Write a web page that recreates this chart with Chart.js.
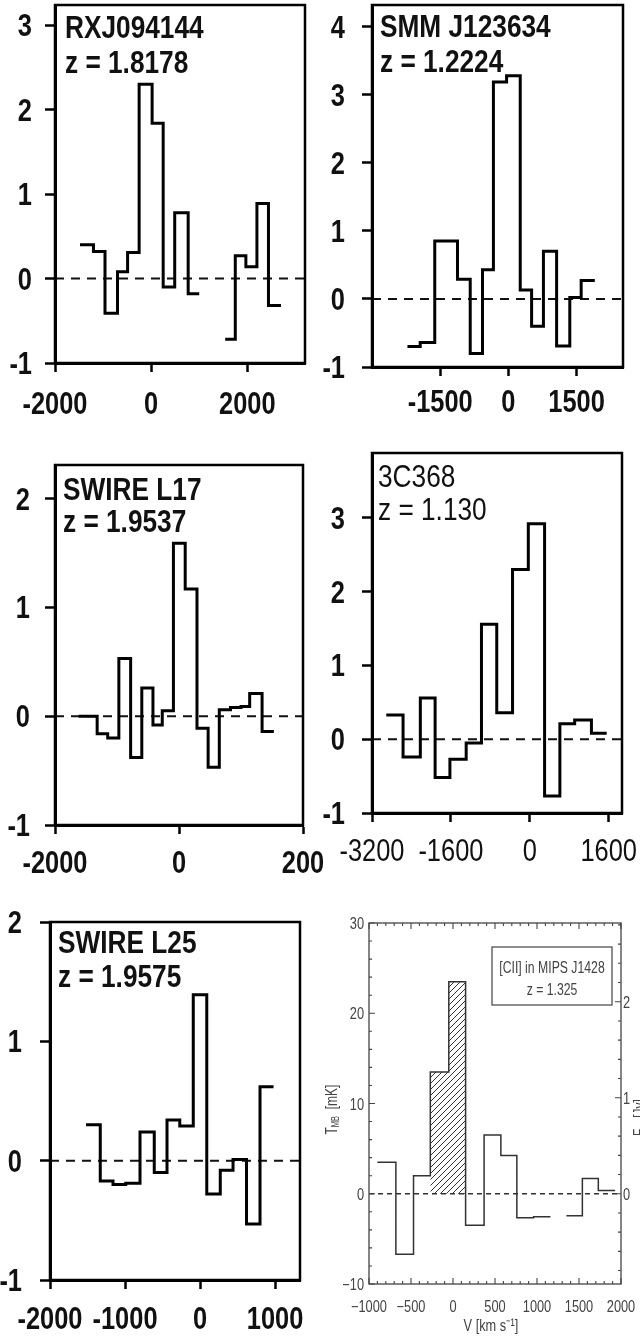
<!DOCTYPE html>
<html>
<head>
<meta charset="utf-8">
<script src="https://cdn.jsdelivr.net/npm/chart.js@4.4.1/dist/chart.umd.min.js"></script>
<style>
  html, body { margin: 0; padding: 0; background: #fff; }
  body { width: 640px; height: 1338px; position: relative; overflow: hidden; }
  canvas { position: absolute; }
</style>
</head>
<body>
<canvas id="rxjChart"></canvas>
<canvas id="smmChart"></canvas>
<canvas id="l17Chart"></canvas>
<canvas id="c368Chart"></canvas>
<canvas id="l25Chart"></canvas>
<canvas id="ciiChart"></canvas>
<script>
const SANS = "'Liberation Sans', Arial, sans-serif";
const SQUEEZE = 0.82;

// RXJ094144 - channel edges (km/s) and flux (mJy)
const rxjEdges = [-1480, -1200, -960, -700, -490, -250, 20, 250, 490, 770, 1000, 1540, 1750, 1970, 2200, 2440, 2700];
const rxjFlux = [0.40, 0.32, -0.41, 0.08, 0.31, 2.30, 1.84, -0.10, 0.78, -0.18, null, -0.72, 0.27, 0.14, 0.89, -0.32];
const rxjXTicks = [-2000, 0, 2000];
const rxjXLabels = ['-2000', '0', '2000'];
const rxjYTicks = [-1, 0, 1, 2, 3];

// SMM J123634
const smmEdges = [-2220, -1940, -1620, -1370, -1120, -840, -570, -330, -40, 260, 510, 770, 1060, 1350, 1600, 1900];
const smmFlux = [-0.70, -0.64, 0.85, 0.85, 0.29, -0.80, 0.43, 3.19, 3.28, 0.13, -0.40, 0.70, -0.69, 0.02, 0.27];
const smmXTicks = [-1500, 0, 1500];
const smmXLabels = ['-1500', '0', '1500'];
const smmYTicks = [-1, 0, 1, 2, 3, 4];

// SWIRE L17
const l17Edges = [-1620, -1320, -1150, -970, -780, -600, -420, -270, -90, 100, 290, 470, 650, 830, 1000, 1140, 1340, 1530];
const l17Flux = [0.0, -0.16, -0.20, 0.53, -0.38, 0.26, -0.08, 0.05, 1.59, 1.17, -0.11, -0.47, 0.06, 0.08, 0.09, 0.21, -0.14];
const l17XTicks = [-2000, 0, 2000];
const l17XLabels = ['-2000', '0', '200'];
const l17YTicks = [-1, 0, 1, 2];

// 3C368
const c368Edges = [-2910, -2570, -2220, -1920, -1620, -1290, -980, -670, -350, -30, 300, 610, 910, 1250, 1560];
const c368Flux = [0.33, -0.24, 0.56, -0.52, -0.27, -0.05, 1.56, 0.36, 2.30, 2.92, -0.77, 0.21, 0.26, 0.08];
const c368XTicks = [-3200, -1600, 0, 1600];
const c368XLabels = ['-3200', '-1600', '0', '1600'];
const c368YTicks = [-1, 0, 1, 2, 3];

// SWIRE L25
const l25Edges = [-1520, -1330, -1160, -990, -800, -610, -440, -270, -90, 90, 270, 440, 620, 800, 980];
const l25Flux = [0.30, -0.17, -0.20, -0.19, 0.24, -0.10, 0.34, 0.29, 1.39, -0.28, -0.08, 0.01, -0.53, 0.62];
const l25XTicks = [-2000, -1000, 0, 1000];
const l25XLabels = ['-2000', '-1000', '0', '1000'];
const l25YTicks = [-1, 0, 1, 2];

// [CII] in MIPS J1428 - main beam temperature (mK), line channels hatched
const ciiEdges = [-900, -680, -470, -270, -50, 150, 370, 570, 760, 960, 1160, 1350, 1540, 1730, 1930];
const ciiTmb = [3.5, -6.7, 2.0, 13.5, 23.5, -3.5, 6.5, 4.25, -2.65, -2.55, null, -2.45, 1.7, 0.37];
const ciiLineBins = [3, 4];
const ciiXTicks = [-1000, -500, 0, 500, 1000, 1500, 2000];
const ciiXLabels = ['\u22121000', '\u2212500', '0', '500', '1000', '1500', '2000'];
const ciiYTicks = [-10, 0, 10, 20, 30];
const ciiYLabels = ['\u221210', '0', '10', '20', '30'];
const ciiJyTicks = [0, 1, 2];
const ciiJyLabels = ['0', '1', '2'];

// turn channel edges + values into points for a stepped line
function stepPoints(edges, values) {
    const pts = [];
    values.forEach((v, i) => {
        if (v === null) {
            pts.push({ x: edges[i], y: null });
            return;
        }
        pts.push({ x: edges[i], y: v });
        const next = values[i + 1];
        if (next === undefined || next === null) pts.push({ x: edges[i + 1], y: v });
    });
    return pts;
}

function placeCanvas(id, box) {
    const [x, y, w, h] = box;
    const c = document.getElementById(id);
    c.width = w;
    c.height = h;
    c.style.left = x + 'px';
    c.style.top = y + 'px';
    c.style.width = w + 'px';
    c.style.height = h + 'px';
    return c;
}

// narrow lettering: ordinary font squeezed horizontally
function narrowText(ctx, text, x, y, align, sx) {
    ctx.save();
    ctx.translate(x, y);
    ctx.scale(sx, 1);
    ctx.textAlign = align;
    ctx.fillText(text, 0, 0);
    ctx.restore();
}

const frame = {
    id: 'frame',
    afterDraw(chart, args, opts) {
        const { ctx, chartArea: a } = chart;
        ctx.save();
        ctx.strokeStyle = opts.color || '#000';
        ctx.lineWidth = opts.width || 2;
        ctx.strokeRect(a.left, a.top, a.right - a.left, a.bottom - a.top);
        ctx.restore();
    }
};

// tick labels placed from the scales, drawn narrow
const axisLabels = {
    id: 'axisLabels',
    afterDraw(chart, args, opts) {
        const { ctx, chartArea: a, scales } = chart;
        ctx.save();
        ctx.fillStyle = opts.color;
        ctx.textBaseline = 'alphabetic';
        ctx.font = `${opts.xWeight} ${opts.size}px ${SANS}`;
        scales.x.ticks.forEach((t, i) => {
            narrowText(ctx, opts.xLabels[i], scales.x.getPixelForValue(t.value), a.bottom + opts.xBase, 'center', opts.sx);
        });
        ctx.font = `${opts.yWeight} ${opts.size}px ${SANS}`;
        scales.y.ticks.forEach((t, i) => {
            narrowText(ctx, opts.yLabels[i], a.left - opts.yGap, scales.y.getPixelForValue(t.value) + opts.yShift, 'right', opts.sx);
        });
        if (scales.y2 && opts.y2Labels) {
            scales.y2.ticks.forEach((t, i) => {
                narrowText(ctx, opts.y2Labels[i], a.right + opts.y2Gap, scales.y2.getPixelForValue(t.value) + opts.yShift, 'left', opts.sx);
            });
        }
        ctx.restore();
    }
};

const panelText = {
    id: 'panelText',
    afterDraw(chart, args, opts) {
        if (!opts.lines) return;
        const { ctx, chartArea: a } = chart;
        ctx.save();
        ctx.fillStyle = '#111';
        ctx.font = `${opts.weight} ${opts.size}px ${SANS}`;
        ctx.textBaseline = 'alphabetic';
        opts.lines.forEach((line, i) => {
            narrowText(ctx, line, a.left + opts.dx, a.top + opts.dy[i], 'left', SQUEEZE);
        });
        ctx.restore();
    }
};

function createSpectrum(cfg) {
    const canvas = placeCanvas(cfg.id, cfg.canvas);
    const [cx, cy, cw, ch] = cfg.canvas;
    const [L, T, R, B] = cfg.box;
    const [xMin, xMax] = cfg.xRange;
    const [yMin, yMax] = cfg.yRange;

    return new Chart(canvas, {
        type: 'line',
        data: {
            datasets: [
                {
                    data: stepPoints(cfg.edges, cfg.flux),
                    stepped: 'before',
                    borderColor: '#000',
                    borderWidth: 3,
                    borderJoinStyle: 'miter',
                    pointRadius: 0,
                    spanGaps: false,
                    fill: false
                },
                {
                    data: [{ x: xMin, y: 0 }, { x: xMax, y: 0 }],
                    borderColor: '#111',
                    borderWidth: 2,
                    borderDash: [9, 7],
                    pointRadius: 0,
                    fill: false
                }
            ]
        },
        options: {
            responsive: false,
            animation: false,
            events: [],
            layout: { padding: { left: 0, top: T - cy, right: cx + cw - R, bottom: 0 } },
            plugins: {
                legend: { display: false },
                tooltip: { enabled: false },
                frame: { color: '#000', width: 2.5 },
                axisLabels: {
                    color: '#111', size: 31, sx: SQUEEZE,
                    xWeight: cfg.weight, yWeight: 'bold',
                    xLabels: cfg.xLabels, yLabels: cfg.yTicks.map(String),
                    xBase: cfg.xBase, yGap: cfg.yGap, yShift: 11
                },
                panelText: { lines: cfg.title, weight: cfg.weight, size: 32, dx: cfg.titleAt[0], dy: cfg.titleAt.slice(1) }
            },
            scales: {
                x: {
                    type: 'linear',
                    min: xMin,
                    max: xMax,
                    afterBuildTicks: s => { s.ticks = cfg.xTicks.map(v => ({ value: v })); },
                    afterFit: s => { s.height = cy + ch - B; },
                    border: { display: true, color: '#000', width: 3 },
                    grid: { drawOnChartArea: false, drawTicks: true, tickLength: 9, tickWidth: 2.5, tickColor: '#000' },
                    ticks: { display: false }
                },
                y: {
                    min: yMin,
                    max: yMax,
                    afterBuildTicks: s => { s.ticks = cfg.yTicks.map(v => ({ value: v })); },
                    afterFit: s => { s.width = L - cx; },
                    border: { display: true, color: '#000', width: 3 },
                    grid: { drawOnChartArea: false, drawTicks: true, tickLength: 10, tickWidth: 2.5, tickColor: '#000' },
                    ticks: { display: false }
                }
            }
        },
        plugins: [frame, axisLabels, panelText]
    });
}

createSpectrum({
    id: 'rxjChart', canvas: [0, 0, 325, 440], box: [55, 5, 305, 363],
    edges: rxjEdges, flux: rxjFlux, xRange: [-2000, 3200], yRange: [-1, 3.24],
    xTicks: rxjXTicks, xLabels: rxjXLabels, yTicks: rxjYTicks, xBase: 51, yGap: 23,
    title: ['RXJ094144', 'z = 1.8178'], titleAt: [10, 33, 68], weight: 'bold'
});

createSpectrum({
    id: 'smmChart', canvas: [320, 0, 320, 440], box: [372, 5, 623, 367],
    edges: smmEdges, flux: smmFlux, xRange: [-3000, 2520], yRange: [-1, 4.32],
    xTicks: smmXTicks, xLabels: smmXLabels, yTicks: smmYTicks, xBase: 45, yGap: 27,
    title: ['SMM J123634', 'z = 1.2224'], titleAt: [8, 32, 67], weight: 'bold'
});

createSpectrum({
    id: 'l17Chart', canvas: [0, 440, 330, 440], box: [55, 465, 303, 825],
    edges: l17Edges, flux: l17Flux, xRange: [-2000, 2000], yRange: [-1, 2.31],
    xTicks: l17XTicks, xLabels: l17XLabels, yTicks: l17YTicks, xBase: 48, yGap: 25,
    title: ['SWIRE L17', 'z = 1.9537'], titleAt: [8, 35, 67], weight: 'bold'
});

createSpectrum({
    id: 'c368Chart', canvas: [320, 425, 320, 455], box: [372, 453, 622, 813],
    edges: c368Edges, flux: c368Flux, xRange: [-3200, 1870], yRange: [-1, 3.88],
    xTicks: c368XTicks, xLabels: c368XLabels, yTicks: c368YTicks, xBase: 48, yGap: 27,
    title: ['3C368', 'z = 1.130'], titleAt: [6, 34, 67], weight: 'normal'
});

createSpectrum({
    id: 'l25Chart', canvas: [0, 895, 330, 443], box: [50, 922, 300, 1280],
    edges: l25Edges, flux: l25Flux, xRange: [-2000, 1333], yRange: [-1, 2],
    xTicks: l25XTicks, xLabels: l25XLabels, yTicks: l25YTicks, xBase: 49, yGap: 28,
    title: ['SWIRE L25', 'z = 1.9575'], titleAt: [8, 31, 65], weight: 'bold'
});

// diagonal hatching for the line channels
function hatchPattern() {
    const c = document.createElement('canvas');
    c.width = 6;
    c.height = 6;
    const g = c.getContext('2d');
    g.strokeStyle = '#333';
    g.lineWidth = 1;
    g.beginPath();
    g.moveTo(0, 6); g.lineTo(6, 0);
    g.moveTo(-1, 1); g.lineTo(1, -1);
    g.moveTo(5, 7); g.lineTo(7, 5);
    g.stroke();
    return g.createPattern(c, 'repeat');
}

// inward major/minor ticks on all four sides, legend box and axis titles
const idlDecor = {
    id: 'idlDecor',
    afterDraw(chart, args, opts) {
        const { ctx, chartArea: a, scales } = chart;
        ctx.save();
        ctx.strokeStyle = '#444';
        ctx.lineWidth = 1.1;
        ctx.beginPath();
        for (let v = -1000; v <= 2000; v += 100) {
            const px = scales.x.getPixelForValue(v);
            const len = v % 500 === 0 ? 6 : 3;
            ctx.moveTo(px, a.bottom); ctx.lineTo(px, a.bottom - len);
            ctx.moveTo(px, a.top); ctx.lineTo(px, a.top + len);
        }
        for (let v = -10; v <= 30; v += 2) {
            const py = scales.y.getPixelForValue(v);
            const len = v % 10 === 0 ? 6 : 3;
            ctx.moveTo(a.left, py); ctx.lineTo(a.left + len, py);
        }
        for (let k = -4; k <= 14; k++) {
            const py = scales.y2.getPixelForValue(k / 5);
            const len = k % 5 === 0 ? 6 : 3;
            ctx.moveTo(a.right, py); ctx.lineTo(a.right - len, py);
        }
        ctx.stroke();

        // legend box
        const bx = a.left + 123, by = a.top + 24, bw = 120, bh = 58;
        ctx.lineWidth = 1.2;
        ctx.strokeRect(bx, by, bw, bh);
        ctx.fillStyle = '#444';
        ctx.font = `17px ${SANS}`;
        ctx.textBaseline = 'alphabetic';
        narrowText(ctx, '[CII] in MIPS J1428', bx + bw / 2, by + 26, 'center', 0.72);
        narrowText(ctx, 'z = 1.325', bx + bw / 2, by + 48, 'center', 0.72);

        // x axis title
        narrowText(ctx, 'V [km s\u207B\u00B9]', (a.left + a.right) / 2 - 4, a.bottom + 47, 'center', 0.75);

        // rotated titles with subscripts
        const vertical = (x, y, parts) => {
            ctx.save();
            ctx.translate(x, y);
            ctx.rotate(-Math.PI / 2);
            ctx.textAlign = 'left';
            ctx.textBaseline = 'middle';
            let total = 0;
            parts.forEach(p => { ctx.font = `${p[1]}px ${SANS}`; total += ctx.measureText(p[0]).width * 0.75; });
            let pos = -total / 2;
            parts.forEach(p => {
                ctx.font = `${p[1]}px ${SANS}`;
                narrowText(ctx, p[0], pos, p[2], 'left', 0.75);
                pos += ctx.measureText(p[0]).width * 0.75;
            });
            ctx.restore();
        };
        vertical(a.left - 36, (a.top + a.bottom) / 2 + 6, [['T', 16, 0], ['MB', 10, 3], ['  [mK]', 16, 0]]);
        vertical(a.right + 20, (a.top + a.bottom) / 2 + 14, [['F', 16, 0], ['\u03BD', 11, 3], ['  [Jy]', 16, 0]]);
        ctx.restore();
    }
};

function createCiiChart() {
    const cvs = [320, 900, 320, 438];
    const canvas = placeCanvas('ciiChart', cvs);
    const box = [369, 923, 621, 1284];
    const lineEdges = [ciiEdges[ciiLineBins[0]], ...ciiLineBins.map(i => ciiEdges[i + 1])];
    const lineVals = ciiLineBins.map(i => ciiTmb[i]);

    return new Chart(canvas, {
        type: 'line',
        data: {
            datasets: [
                {
                    data: stepPoints(ciiEdges, ciiTmb),
                    stepped: 'before',
                    borderColor: '#333',
                    borderWidth: 1.5,
                    borderJoinStyle: 'miter',
                    pointRadius: 0,
                    spanGaps: false,
                    fill: false
                },
                {
                    data: stepPoints(lineEdges, lineVals),
                    stepped: 'before',
                    borderWidth: 0,
                    borderColor: 'rgba(0,0,0,0)',
                    backgroundColor: hatchPattern(),
                    pointRadius: 0,
                    fill: { value: 0 }
                },
                {
                    data: [{ x: -1000, y: 0 }, { x: 2000, y: 0 }],
                    borderColor: '#333',
                    borderWidth: 1.4,
                    borderDash: [5, 4],
                    pointRadius: 0,
                    fill: false
                }
            ]
        },
        options: {
            responsive: false,
            animation: false,
            events: [],
            layout: { padding: { left: 0, top: box[1] - cvs[1], right: 0, bottom: 0 } },
            plugins: {
                legend: { display: false },
                tooltip: { enabled: false },
                frame: { color: '#444', width: 1.3 },
                axisLabels: {
                    color: '#444', size: 16, sx: 0.8,
                    xWeight: 'normal', yWeight: 'normal',
                    xLabels: ciiXLabels, yLabels: ciiYLabels, y2Labels: ciiJyLabels,
                    xBase: 28, yGap: 5, y2Gap: 2, yShift: 6
                }
            },
            scales: {
                x: {
                    type: 'linear',
                    min: -1000,
                    max: 2000,
                    afterBuildTicks: s => { s.ticks = ciiXTicks.map(v => ({ value: v })); },
                    afterFit: s => { s.height = cvs[1] + cvs[3] - box[3]; },
                    border: { display: false },
                    grid: { display: false },
                    ticks: { display: false }
                },
                y: {
                    min: -10,
                    max: 30,
                    afterBuildTicks: s => { s.ticks = ciiYTicks.map(v => ({ value: v })); },
                    afterFit: s => { s.width = box[0] - cvs[0]; },
                    border: { display: false },
                    grid: { display: false },
                    ticks: { display: false }
                },
                y2: {
                    position: 'right',
                    min: -0.94,
                    max: 2.82,
                    afterBuildTicks: s => { s.ticks = ciiJyTicks.map(v => ({ value: v })); },
                    afterFit: s => { s.width = cvs[0] + cvs[2] - box[2]; },
                    border: { display: false },
                    grid: { display: false },
                    ticks: { display: false }
                }
            }
        },
        plugins: [frame, axisLabels, idlDecor]
    });
}

createCiiChart();
</script>
</body>
</html>
